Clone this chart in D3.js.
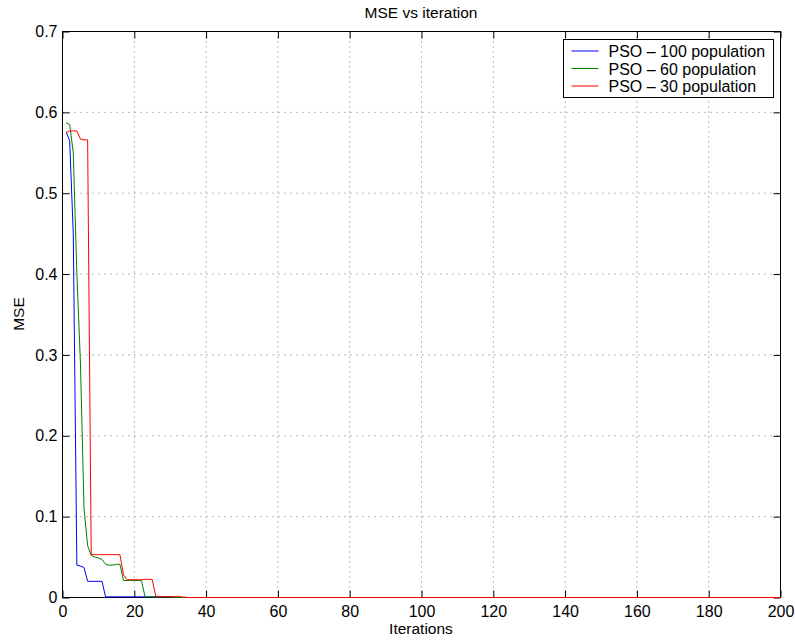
<!DOCTYPE html>
<html>
<head>
<meta charset="utf-8">
<script src="https://cdn.jsdelivr.net/npm/d3@7"></script>
<style>
    body { margin: 0; background: #fff; }
    svg { display: block; font-family: "Liberation Sans", Arial, Helvetica, sans-serif; }
    .tick text { font-size: 16px; fill: #000; }
    .tick line { stroke: #000; }
</style>
</head>
<body>
<div id="chart"></div>
<script>
var iterations = [1, 2, 3, 4, 5, 6, 7, 8, 9, 10, 11, 12, 13, 14, 15, 16, 17, 18,
    19, 20, 21, 22, 23, 24, 25, 26, 27, 28, 29, 30, 31, 32, 33, 34, 35, 200];

var pso100 = [0.576, 0.565, 0.45, 0.040, 0.039, 0.037, 0.020, 0.020, 0.020, 0.020, 0.020,
    0.0008, 0.0008, 0.0008, 0.0008, 0.0008, 0.0008, 0.0008, 0.0008, 0.0008, 0.0008,
    0.0008, 0.0008, 0.0008, 0.0008, 0.0008, 0.0008, 0.0008, 0.0008, 0.0008, 0.0004,
    0, 0, 0, 0, 0];

var pso60 = [0.587, 0.585, 0.55, 0.40, 0.29, 0.11, 0.064, 0.052, 0.050, 0.049, 0.047,
    0.041, 0.040, 0.040, 0.041, 0.041, 0.021, 0.021, 0.021, 0.021, 0.021, 0.021,
    0.0008, 0.0008, 0.0008, 0.0008, 0.0008, 0.0008, 0.0008, 0.0008,
    0, 0, 0, 0, 0, 0];

var pso30 = [0.575, 0.577, 0.577, 0.577, 0.567, 0.566, 0.566, 0.053, 0.053, 0.053, 0.053,
    0.053, 0.053, 0.053, 0.053, 0.053, 0.028, 0.022, 0.022, 0.022, 0.022, 0.022,
    0.0225, 0.0225, 0.0222, 0.0012, 0.001, 0.001, 0.001, 0.001, 0.001, 0.0015,
    0.0008, 0.0004, 0, 0];

var seriesNames = ['PSO \u2013 100 population', 'PSO \u2013 60 population', 'PSO \u2013 30 population'];
var seriesColors = ['#0000ff', '#008000', '#ff0000'];
var xTicks = [0, 20, 40, 60, 80, 100, 120, 140, 160, 180, 200];
var yTicks = [0, 0.1, 0.2, 0.3, 0.4, 0.5, 0.6, 0.7];

var margin = {top: 31, right: 15, bottom: 44, left: 62};
var width = 795 - margin.left - margin.right;
var height = 641 - margin.top - margin.bottom;

var svg = d3.select('#chart').append('svg')
    .attr('width', 795)
    .attr('height', 641);

var g = svg.append('g')
    .attr('transform', 'translate(' + (margin.left + 0.5) + ',' + (margin.top + 0.5) + ')');

var x = d3.scaleLinear().domain([0, 200]).range([0, width]);
var y = d3.scaleLinear().domain([0, 0.7]).range([height, 0]);

// dotted grid
g.append('g').selectAll('line')
    .data(xTicks.slice(1, -1))
    .enter().append('line')
    .attr('x1', function(d) { return x(d); })
    .attr('x2', function(d) { return x(d); })
    .attr('y1', 0)
    .attr('y2', height)
    .attr('stroke', '#777')
    .attr('stroke-dasharray', '1,4');

g.append('g').selectAll('line')
    .data(yTicks.slice(1, -1))
    .enter().append('line')
    .attr('x1', 0)
    .attr('x2', width)
    .attr('y1', function(d) { return y(d); })
    .attr('y2', function(d) { return y(d); })
    .attr('stroke', '#777')
    .attr('stroke-dasharray', '1,5');

// axes, ticks pointing inwards on all four sides
var fmtY = function(d) { return d === 0 ? '0' : d3.format('.1f')(d); };

g.append('g')
    .attr('transform', 'translate(0,' + height + ')')
    .call(d3.axisBottom(x).tickValues(xTicks).tickSize(-7).tickPadding(8))
    .call(function(a) { a.select('.domain').remove(); });

g.append('g')
    .call(d3.axisTop(x).tickValues(xTicks).tickSize(-7).tickFormat(''))
    .call(function(a) { a.select('.domain').remove(); });

g.append('g')
    .call(d3.axisLeft(y).tickValues(yTicks).tickSize(-7).tickPadding(5).tickFormat(fmtY))
    .call(function(a) { a.select('.domain').remove(); });

g.append('g')
    .attr('transform', 'translate(' + width + ',0)')
    .call(d3.axisRight(y).tickValues(yTicks).tickSize(-7).tickFormat(''))
    .call(function(a) { a.select('.domain').remove(); });

g.append('rect')
    .attr('width', width)
    .attr('height', height)
    .attr('fill', 'none')
    .attr('stroke', '#000');

// curves
var line = d3.line()
    .x(function(d) { return x(d[0]); })
    .y(function(d) { return y(d[1]); });

[pso100, pso60, pso30].forEach(function(values, i) {
    g.append('path')
        .datum(d3.zip(iterations, values))
        .attr('fill', 'none')
        .attr('stroke', seriesColors[i])
        .attr('stroke-width', 1)
        .attr('d', line);
});

// legend
var legend = svg.append('g').attr('transform', 'translate(563.5,39.5)');
legend.append('rect')
    .attr('width', 210)
    .attr('height', 58)
    .attr('fill', '#fff')
    .attr('stroke', '#000');

seriesNames.forEach(function(name, i) {
    var cy = 11.5 + i * 17.5;
    legend.append('path')
        .attr('d', 'M8,' + cy + 'H35')
        .attr('fill', 'none')
        .attr('stroke', seriesColors[i])
        .attr('stroke-width', 1);
    legend.append('text')
        .attr('x', 45)
        .attr('y', cy + 6)
        .style('font-size', '16px')
        .text(name);
});

// labels
svg.append('text')
    .attr('x', margin.left + width / 2)
    .attr('y', 18)
    .attr('text-anchor', 'middle')
    .style('font-size', '15.5px')
    .text('MSE vs iteration');

svg.append('text')
    .attr('x', margin.left + width / 2)
    .attr('y', 634)
    .attr('text-anchor', 'middle')
    .style('font-size', '15.5px')
    .text('Iterations');

svg.append('text')
    .attr('transform', 'translate(24,' + (margin.top + height / 2) + ') rotate(-90)')
    .attr('text-anchor', 'middle')
    .style('font-size', '15.5px')
    .text('MSE');
</script>
</body>
</html>
